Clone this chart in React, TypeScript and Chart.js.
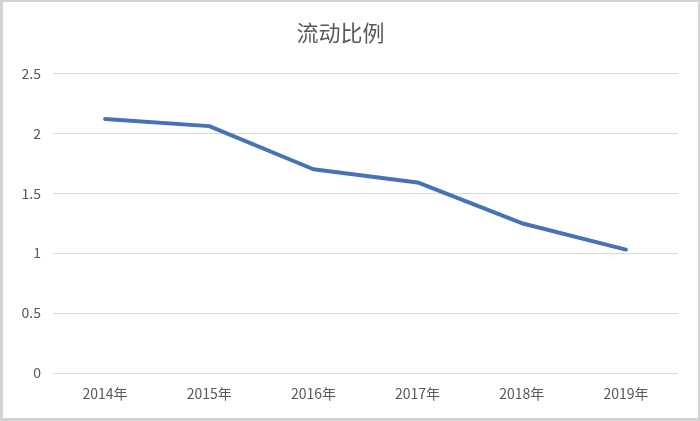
import React, { useEffect, useRef } from "react";
import { Chart, registerables } from "chart.js";

Chart.register(...registerables);

const categories = ["2014年", "2015年", "2016年", "2017年", "2018年", "2019年"];
const ratioValues = [2.12, 2.06, 1.7, 1.59, 1.25, 1.03];
const chartTitle = "流动比例";
const FONT = '"Noto Sans CJK SC", "Noto Sans", sans-serif';

export default function App() {
  const ref = useRef<HTMLCanvasElement | null>(null);

  useEffect(() => {
    document.body.style.margin = "0";
    const canvas = ref.current;
    if (!canvas) return;
    const chart = new Chart(canvas, {
      type: "line",
      data: {
        labels: categories,
        datasets: [
          {
            label: chartTitle,
            data: ratioValues,
            borderColor: "#4672B8",
            backgroundColor: "#4672B8",
            borderWidth: 4,
            pointRadius: 0,
            tension: 0,
            borderCapStyle: "round",
            borderJoinStyle: "round",
          },
        ],
      },
      options: {
        responsive: false,
        animation: false,
        layout: { padding: { left: 3, right: 22, top: 0, bottom: 0 } },
        plugins: {
          legend: { display: false },
          tooltip: { enabled: false },
          title: {
            display: true,
            text: chartTitle,
            color: "#595959",
            font: { family: FONT, size: 22, weight: "normal" },
            padding: { top: 19, bottom: 28 },
          },
        },
        scales: {
          x: {
            offset: true,
            grid: { display: false, drawTicks: false, offset: true },
            border: { display: false },
            ticks: {
              color: "#595959",
              font: { family: FONT, size: 14 },
              padding: 12,
              maxRotation: 0,
            },
            afterFit: (scale: any) => {
              scale.height = 48;
            },
          },
          y: {
            min: 0,
            max: 2.5,
            grid: { color: "#d9d9d9", lineWidth: 1, drawTicks: false },
            border: { display: false },
            ticks: {
              stepSize: 0.5,
              color: "#595959",
              font: { family: FONT, size: 14 },
              padding: 12,
              callback: (v: any) => String(Number(v)),
            },
            afterFit: (scale: any) => {
              scale.width = 50;
            },
          },
        },
      },
    });
    return () => chart.destroy();
  }, []);

  return (
    <div style={{ position: "absolute", left: 0, top: 0, width: 700, height: 421, background: "#fff" }}>
      <canvas ref={ref} width={700} height={421} style={{ position: "absolute", left: 0, top: 0 }} />
      <div
        style={{
          position: "absolute",
          left: 0,
          top: 0,
          width: 700,
          height: 421,
          boxSizing: "border-box",
          borderStyle: "solid",
          borderColor: "#d4d4d4",
          borderWidth: "2px 2px 3px 3px",
          pointerEvents: "none",
        }}
      />
    </div>
  );
}
